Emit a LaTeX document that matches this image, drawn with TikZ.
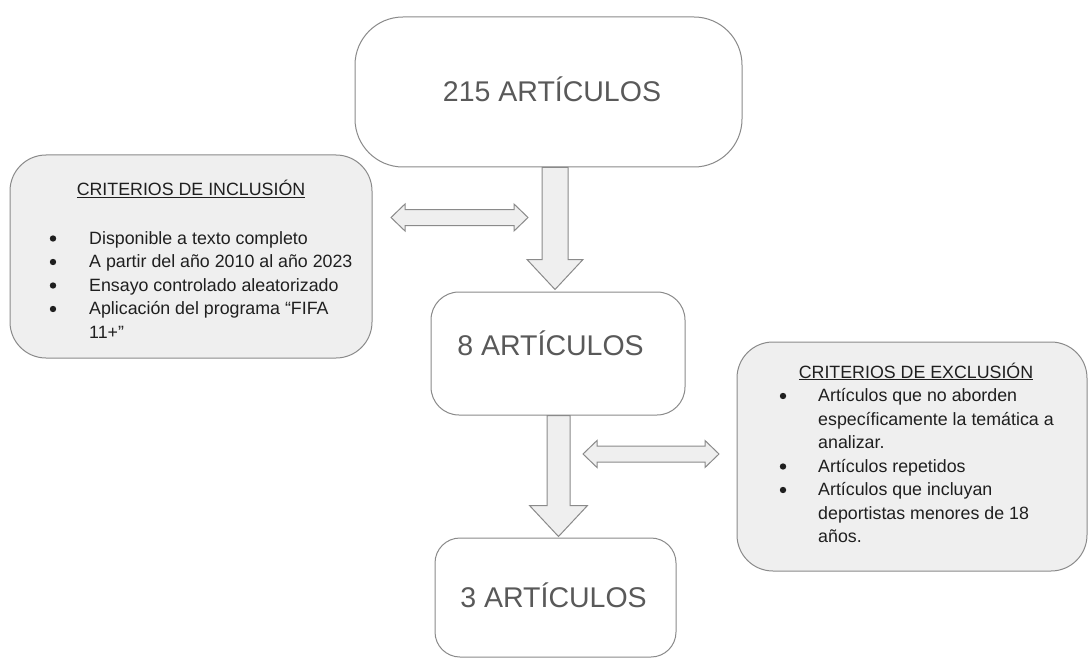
\documentclass[tikz,border=0pt]{standalone}
\usepackage{fontspec}
\setmainfont{Liberation Sans}
\usetikzlibrary{calc}
\definecolor{edge}{HTML}{8A8A8A}
\definecolor{boxfill}{HTML}{EFEFEF}
\definecolor{bigtext}{HTML}{595959}
\definecolor{smalltext}{HTML}{1F1F1F}
\newcommand\blockdown[5]{\draw[blk] ($(#1)+(-#3,0)$) -- ($(#1)+(#3,0)$) -- ($(#2)+(#3,-#5)$) -- ($(#2)+(#4,-#5)$) -- (#2) -- ($(#2)+(-#4,-#5)$) -- ($(#2)+(-#3,-#5)$) -- cycle;}
% #1 left tip, #2 right tip (same y): shaft half 8, head half 13.5, head length 14
\newcommand\dblarrow[2]{\draw[blk] (#1) -- ($(#1)+(14,-13.5)$) -- ($(#1)+(14,-8)$) -- ($(#2)+(-14,-8)$) -- ($(#2)+(-14,-13.5)$) -- (#2) -- ($(#2)+(-14,13.5)$) -- ($(#2)+(-14,8)$) -- ($(#1)+(14,8)$) -- ($(#1)+(14,13.5)$) -- cycle;}
\begin{document}
\begin{tikzpicture}[x=1pt,y=-1pt,
  box/.style={draw=edge, line width=1pt, rectangle, inner sep=0pt, fill=white},
  crit/.style={box, fill=boxfill},
  bigtxt/.style={text=bigtext, font=\fontsize{28.5}{34}\selectfont, inner sep=0pt, text height=20.4pt, text depth=0pt},
  ln/.style={anchor=base west, inner sep=0pt, text=smalltext, font=\fontsize{17.8}{23.5}\selectfont},
  ttl/.style={anchor=base, inner sep=0pt, text=smalltext, font=\fontsize{17.8}{23.5}\selectfont},
  blk/.style={draw=edge, fill=boxfill, line width=1pt, line join=miter},
  bul/.style={fill=smalltext}]
\useasboundingbox (0,0) rectangle (1090,658);

% main boxes
\node[box, rounded corners=48pt, minimum width=387pt, minimum height=150pt] (b215) at (548.5,92) {};
\node[bigtxt] (t215) at (552,91) {215 ARTÍCULOS};
\node[box, rounded corners=28pt, minimum width=254pt, minimum height=123pt] (b8) at (558,353.5) {};
\node[bigtxt] (t8) at (550.5,345) {8 ARTÍCULOS};
\node[box, rounded corners=25pt, minimum width=241pt, minimum height=119pt] (b3) at (555.5,597.5) {};
\node[bigtxt] (t3) at (553.5,597) {3 ARTÍCULOS};

% block arrows
\coordinate (a1s) at ($(b215.south)+(6.5,0)$);
\coordinate (a1e) at ($(b8.north)+(-3,-2)$);
\blockdown{a1s}{a1e}{13}{28}{30}
\coordinate (a2s) at ($(b8.south)+(0.5,0)$);
\coordinate (a2e) at ($(b3.north)+(3,-1)$);
\blockdown{a2s}{a2e}{11.5}{29}{31}

% double arrows
\coordinate (d1l) at (391,217.5);
\coordinate (d1r) at (528,217.5);
\dblarrow{d1l}{d1r}
\coordinate (d2l) at (583,454);
\coordinate (d2r) at (719,454);
\dblarrow{d2l}{d2r}

% inclusion criteria
\node[crit, rounded corners=36pt, minimum width=362pt, minimum height=203pt] (inc) at (191,256.5) {};
\node[ttl] (inct) at (191,196) {\underline{CRITERIOS DE INCLUSIÓN}};
\node[ln] (inc1) at (89,244) {Disponible a texto completo};
\node[ln] (inc2) at (89,267.5) {A partir del año 2010 al año 2023};
\node[ln] (inc3) at (89,291) {Ensayo controlado aleatorizado};
\node[ln] (inc4) at (89,314.5) {Aplicación del programa “FIFA};
\node[ln] (inc5) at (89,338) {11+”};
\foreach \yy in {244,267.5,291,314.5} \fill[bul] (53,\yy-5.5) circle (3.2pt);

% exclusion criteria
\node[crit, rounded corners=36pt, minimum width=350pt, minimum height=229pt] (exc) at (912,456.5) {};
\node[ttl] (exct) at (916,378) {\underline{CRITERIOS DE EXCLUSIÓN}};
\node[ln] (exc1) at (818,401.5) {Artículos que no aborden};
\node[ln] (exc2) at (818,425) {específicamente la temática a};
\node[ln] (exc3) at (818,448.5) {analizar.};
\node[ln] (exc4) at (818,472) {Artículos repetidos};
\node[ln] (exc5) at (818,495.5) {Artículos que incluyan};
\node[ln] (exc6) at (818,519) {deportistas menores de 18};
\node[ln] (exc7) at (818,542.5) {años.};
\foreach \yy in {401.5,472,495.5} \fill[bul] (783,\yy-5.5) circle (3.2pt);
\end{tikzpicture}
\end{document}
